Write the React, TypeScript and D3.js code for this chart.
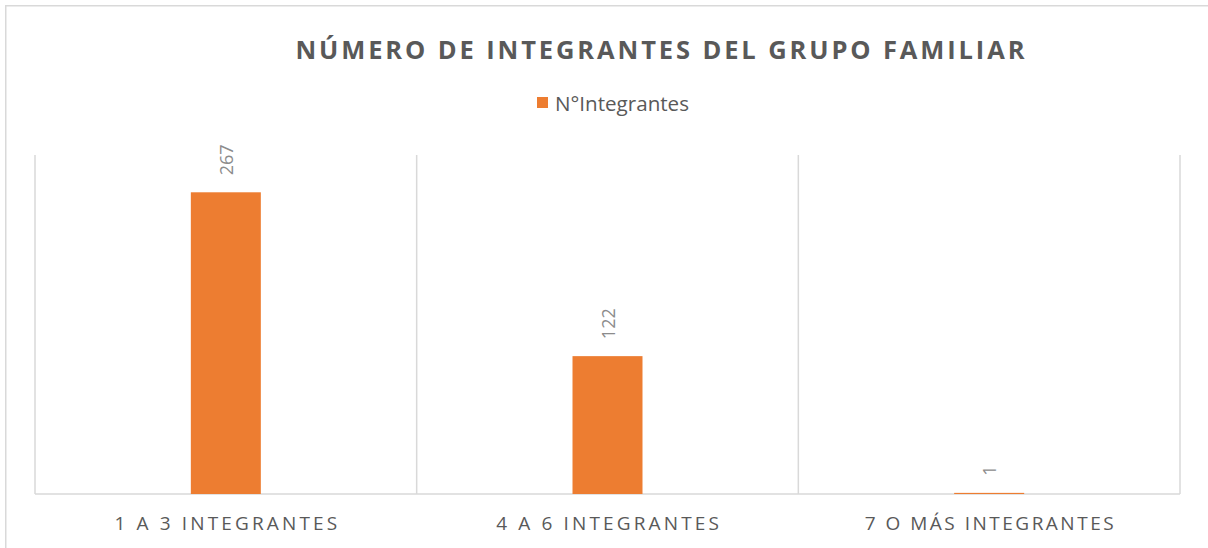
import React from "react";
import * as d3 from "d3";

const categories = ["1 A 3 INTEGRANTES", "4 A 6 INTEGRANTES", "7 O MÁS INTEGRANTES"];
const values = [267, 122, 1];
const seriesName = "N°Integrantes";
const title = "NÚMERO DE INTEGRANTES DEL GRUPO FAMILIAR";
const yDomain = [0, 300];

const W = 1208;
const H = 548;
const plot = { left: 35, right: 1180, top: 155, bottom: 494 };
const FONT = "'Open Sans', 'Liberation Sans', sans-serif";

export default function App() {
  const x = d3.scaleBand<string>().domain(categories).range([plot.left, plot.right]).padding(0);
  const y = d3.scaleLinear().domain(yDomain).range([plot.bottom, plot.top]);
  const bw = x.bandwidth() * (70 / 381.7);
  const boundaries = [...categories.map((c) => x(c) as number), plot.right];
  const grid = "#d9d9d9";

  return (
    <div style={{ position: "absolute", left: 0, top: 0 }}>
      <svg width={W} height={H} style={{ display: "block" }}>
        <rect x={0} y={0} width={W} height={H} fill="#fff" />
        {/* chart frame (top & left visible) */}
        <line x1={5.75} x2={W} y1={5.75} y2={5.75} stroke={grid} strokeWidth={1.5} />
        <line x1={5.75} x2={5.75} y1={5} y2={H} stroke={grid} strokeWidth={1.5} />

        <text
          x={660}
          y={58.5}
          textAnchor="middle"
          fontFamily={FONT}
          fontWeight={700}
          fontSize={25.5}
          fill="#595959"
          textLength={729}
          lengthAdjust="spacing"
        >
          {title}
        </text>

        {/* legend */}
        <rect x={537} y={97} width={11} height={11} fill="#ED7D31" />
        <text x={555} y={110.5} fontFamily={FONT} fontSize={20} fill="#595959" textLength={134} lengthAdjust="spacingAndGlyphs">
          {seriesName}
        </text>

        {/* gridlines */}
        {boundaries.map((bx, i) => (
          <line key={i} x1={bx} x2={bx} y1={plot.top} y2={plot.bottom} stroke={grid} strokeWidth={1.5} />
        ))}
        <line x1={plot.left} x2={plot.right} y1={plot.bottom} y2={plot.bottom} stroke={grid} strokeWidth={1.5} />

        {/* bars */}
        {categories.map((c, i) => {
          const cx = (x(c) as number) + x.bandwidth() / 2;
          const top = y(values[i]);
          return (
            <g key={c}>
              <rect x={cx - bw / 2} y={top} width={bw} height={y(0) - top} fill="#ED7D31" />
              <text
                transform={`translate(${cx},${top - 17}) rotate(-90)`}
                textAnchor="start"
                dominantBaseline="central"
                fontFamily={FONT}
                fontSize={18}
                fill="#8c8c8c"
              >
                {values[i]}
              </text>
            </g>
          );
        })}

        {/* category labels */}
        {categories.map((c) => {
          const cx = (x(c) as number) + x.bandwidth() / 2;
          const len = c.length * 13.1;
          return (
            <text
              key={c}
              x={cx}
              y={529.5}
              textAnchor="middle"
              fontFamily={FONT}
              fontSize={19}
              fill="#595959"
              textLength={len}
              lengthAdjust="spacing"
            >
              {c}
            </text>
          );
        })}
      </svg>
    </div>
  );
}
